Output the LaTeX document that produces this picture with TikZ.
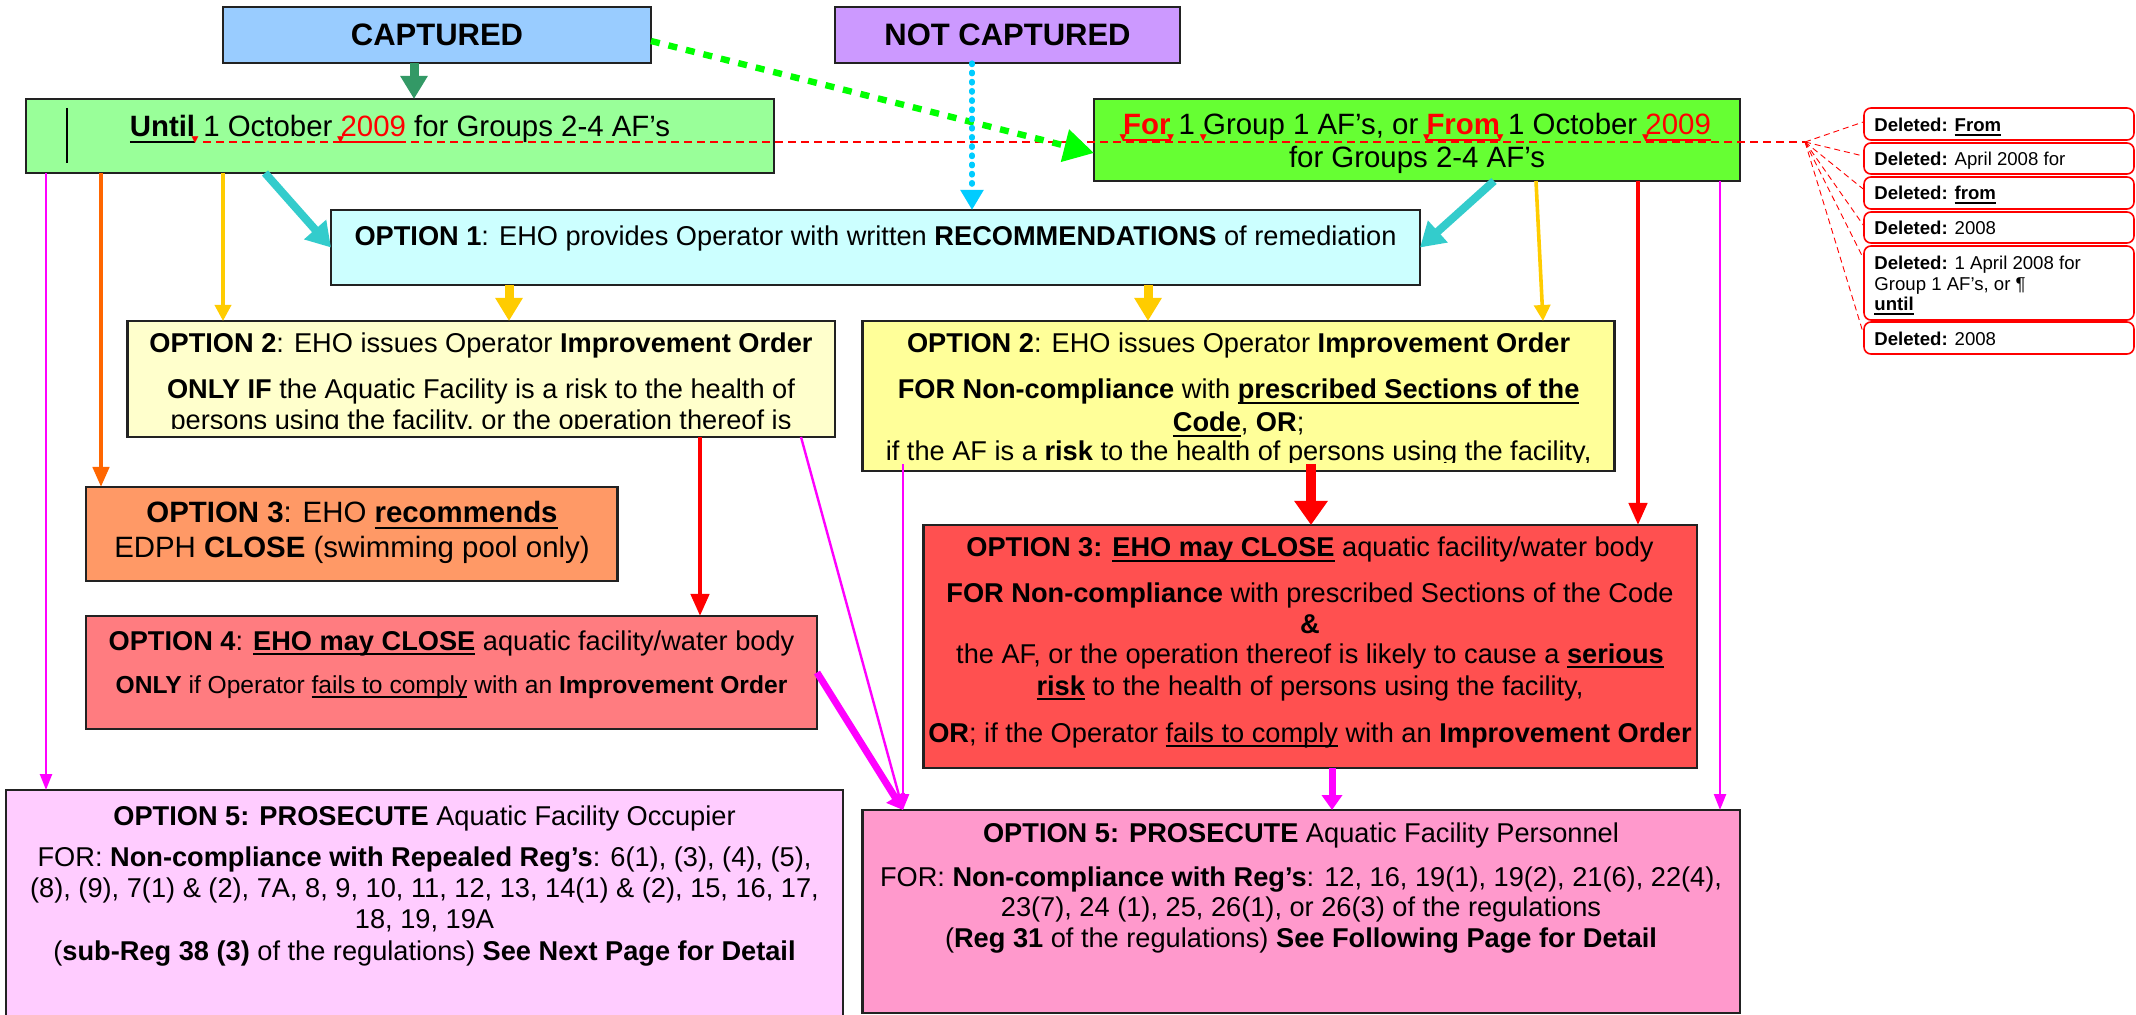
\documentclass[tikz,border=0pt]{standalone}
\usepackage{fontspec}
\setmainfont{Liberation Sans}
\newfontfamily\dejavu{DejaVu Sans}
\usetikzlibrary{arrows.meta,fit}
\definecolor{capblue}{HTML}{99CCFF}
\definecolor{ncpurple}{HTML}{CC99FF}
\definecolor{gonegreen}{HTML}{99FF99}
\definecolor{gtwogreen}{HTML}{66FF33}
\definecolor{ocyan}{HTML}{CCFFFF}
\definecolor{olyel}{HTML}{FFFFCC}
\definecolor{oryel}{HTML}{FFFF99}
\definecolor{oorange}{HTML}{FF9966}
\definecolor{osalmon}{HTML}{FF7C80}
\definecolor{ored}{HTML}{FF5050}
\definecolor{olpink}{HTML}{FFCCFF}
\definecolor{orpink}{HTML}{FF99CC}
\definecolor{dkgreen}{HTML}{339966}
\definecolor{brgreen}{HTML}{00FF00}
\definecolor{skyblue}{HTML}{00CCFF}
\definecolor{cyanar}{HTML}{33CCCC}
\definecolor{yelar}{HTML}{FFCC00}
\definecolor{orar}{HTML}{FF6600}
\definecolor{magar}{HTML}{FF00FF}
\definecolor{bordc}{HTML}{222222}
\newsavebox\undlbox
\newcommand\undl[1]{\sbox\undlbox{#1}\rlap{\rule[-0.2em]{\wd\undlbox}{0.075em}}\usebox\undlbox}
\newcommand\mk{\makebox[0pt]{\raisebox{-2.6pt}{\fontsize{4.5}{4.5}\dejavu\color{red}▼}}}
\tikzset{
  box/.style={draw=bordc, line width=1.2pt, inner sep=0pt, outer sep=0pt},
  txt/.style={anchor=base, inner sep=0pt, font=\fontsize{13.6}{16}\selectfont},
  bigtxt/.style={anchor=base, inner sep=0pt, font=\fontsize{14.7}{17}\selectfont},
  smalltxt/.style={anchor=base, inner sep=0pt, font=\fontsize{12.3}{14}\selectfont},
  captxt/.style={anchor=base, inner sep=0pt, font=\fontsize{15.5}{18}\selectfont\bfseries},
  cmt/.style={draw=red, line width=0.8pt, rounded corners=3.5pt, fill=white, inner sep=0pt},
  cmttxt/.style={anchor=base west, inner sep=0pt, font=\fontsize{9.3}{10.5}\selectfont},
  rdash/.style={draw=red, line width=0.8pt, dash pattern=on 4pt off 2.5pt},
  rdashthin/.style={draw=red, line width=0.45pt, dash pattern=on 3pt off 2pt},
  aDG/.style={draw=dkgreen, line width=4.5pt, -{Triangle[width=13pt,length=11.5pt]}},
  aGD/.style={draw=brgreen, line width=3.2pt, dash pattern=on 4.5pt off 4.5pt, -{Triangle[width=16pt,length=15pt]}},
  aBD/.style={draw=skyblue, line width=2.6pt, line cap=round, dash pattern=on 0.8pt off 3.8pt, -{Triangle[width=11pt,length=10pt]}},
  aCY/.style={draw=cyanar, line width=4pt, -{Triangle[width=14pt,length=12pt]}},
  aYT/.style={draw=yelar, line width=4.5pt, -{Triangle[width=13pt,length=11.5pt]}},
  aYt/.style={draw=yelar, line width=1.8pt, -{Triangle[width=8pt,length=8pt]}},
  aOR/.style={draw=orar, line width=2.2pt, -{Triangle[width=8pt,length=10pt]}},
  aMt/.style={draw=magar, line width=1.2pt, -{Triangle[width=6pt,length=8pt]}},
  aMT/.style={draw=magar, line width=3.5pt, -{Triangle[width=10pt,length=7.5pt]}},
  aRt/.style={draw=red, line width=2.2pt, -{Triangle[width=9pt,length=11pt]}},
  aRT/.style={draw=red, line width=5pt, -{Triangle[width=16pt,length=12pt]}},
}
\begin{document}
\begin{tikzpicture}[x=0.5pt,y=-0.5pt]
\useasboundingbox (0,0) rectangle (2136,1015);
\fill[white] (0,0) rectangle (2136,1015);

% boxes
\node[box, fill=capblue, fit={(223,7) (651,63)}] (cap) {};
\node[box, fill=ncpurple, fit={(835,7) (1180,63)}] (nc) {};
\node[box, fill=gonegreen, fit={(26,99) (774,173)}] (g1) {};
\node[box, fill=gtwogreen, fit={(1094,99) (1740,181)}] (g2) {};
\node[box, fill=ocyan, fit={(331,210) (1420,285)}] (o1) {};
\node[box, fill=olyel, fit={(127.5,321) (835,437)}] (o2l) {};
\node[box, fill=oryel, fit={(862.6,321) (1614.6,471)}] (o2r) {};
\node[box, fill=oorange, fit={(86,487) (617.6,581)}] (o3l) {};
\node[box, fill=osalmon, fit={(86,616) (817,729)}] (o4) {};
\node[box, fill=ored, fit={(923.5,525) (1696.7,768)}] (o3r) {};
\node[box, fill=olpink, fit={(6,790) (843,1030)}] (o5l) {};
\node[box, fill=orpink, fit={(862.6,810) (1740,1013)}] (o5r) {};

% comment boxes
\node[cmt, fit={(1864,108) (2134,140)}] (c1) {};
\node[cmt, fit={(1864,143) (2134,174)}] (c2) {};
\node[cmt, fit={(1864,177) (2134,209)}] (c3) {};
\node[cmt, fit={(1864,212) (2134,243)}] (c4) {};
\node[cmt, fit={(1864,246) (2134,320)}] (c5) {};
\node[cmt, fit={(1864,322) (2134,354)}] (c6) {};

% texts
\node[captxt] (capt) at (437,46) {CAPTURED};
\node[captxt] (nct) at (1007.5,46) {NOT CAPTURED};
\draw[line width=0.8pt] (67,108) -- (67,163);
\node[bigtxt] (g1t) at (400,137) {\textbf{\undl{Until}}\mk\ 1 October \mk\textcolor{red}{\undl{2009}} for Groups 2-4 AF’s};
\node[bigtxt] (g2ta) at (1417,135) {\mk\textcolor{red}{\textbf{\undl{For}}}\mk\ 1 \mk Group 1 AF’s, or \mk\textcolor{red}{\textbf{\undl{From}}}\mk\ 1 October \mk\textcolor{red}{\undl{2009}}};
\node[bigtxt] (g2tb) at (1417,168) {for Groups 2-4 AF’s};
\node[txt] (o1t) at (875.5,246) {\textbf{OPTION 1}: EHO provides Operator with written \textbf{RECOMMENDATIONS} of remediation};

\begin{scope}
\clip (127.5,321) rectangle (835,428.5);
\node[txt] (o2lta) at (481,353) {\textbf{OPTION 2}: EHO issues Operator \textbf{Improvement Order}};
\node[txt] (o2ltb) at (481,399) {\textbf{ONLY IF} the Aquatic Facility is a risk to the health of};
\node[txt] (o2ltc) at (481,430) {persons using the facility, or the operation thereof is};
\end{scope}

\begin{scope}
\clip (862.6,321) rectangle (1614.6,463);
\node[txt] (o2rta) at (1238.6,353) {\textbf{OPTION 2}: EHO issues Operator \textbf{Improvement Order}};
\node[txt] (o2rtb) at (1238.6,399) {\textbf{FOR Non-compliance} with \textbf{\undl{prescribed Sections of the}}};
\node[txt] (o2rtc) at (1238.6,432) {\textbf{\undl{Code}}, \textbf{OR};};
\node[txt] (o2rtd) at (1238.6,461) {if the AF is a \textbf{risk} to the health of persons using the facility,};
\end{scope}

\node[bigtxt] (o3lta) at (352,523) {\textbf{OPTION 3}: EHO \textbf{\undl{recommends}}};
\node[bigtxt] (o3ltb) at (352,558) {EDPH \textbf{CLOSE} (swimming pool only)};

\node[txt] (o4ta) at (451.5,650) {\textbf{OPTION 4}: \textbf{\undl{EHO may CLOSE}} aquatic facility/water body};
\node[smalltxt] (o4tb) at (451.5,693) {\textbf{ONLY} if Operator \undl{fails to comply} with an \textbf{Improvement Order}};

\node[txt] (o3rta) at (1310,557) {\textbf{OPTION 3: \undl{EHO may CLOSE}} aquatic facility/water body};
\node[txt] (o3rtb) at (1310,603) {\textbf{FOR Non-compliance} with prescribed Sections of the Code};
\node[txt] (o3rtc) at (1310,633) {\textbf{\&}};
\node[txt] (o3rtd) at (1310,663) {the AF, or the operation thereof is likely to cause a \textbf{\undl{serious}}};
\node[txt] (o3rte) at (1310,695) {\textbf{\undl{risk}} to the health of persons using the facility,};
\node[txt] (o3rtf) at (1310,742) {\textbf{OR}; if the Operator \undl{fails to comply} with an \textbf{Improvement Order}};

\node[txt] (o5lta) at (424.5,825) {\textbf{OPTION 5: PROSECUTE} Aquatic Facility Occupier};
\node[txt] (o5ltb) at (424.5,866) {FOR: \textbf{Non-compliance with Repealed Reg’s}: 6(1), (3), (4), (5),};
\node[txt] (o5ltc) at (424.5,897) {(8), (9), 7(1) \& (2), 7A, 8, 9, 10, 11, 12, 13, 14(1) \& (2), 15, 16, 17,};
\node[txt] (o5ltd) at (424.5,928) {18, 19, 19A};
\node[txt] (o5lte) at (424.5,960) {(\textbf{sub-Reg 38 (3)} of the regulations) \textbf{See Next Page for Detail}};

\node[txt] (o5rta) at (1301,842) {\textbf{OPTION 5: PROSECUTE} Aquatic Facility Personnel};
\node[txt] (o5rtb) at (1301,886) {FOR: \textbf{Non-compliance with Reg’s}: 12, 16, 19(1), 19(2), 21(6), 22(4),};
\node[txt] (o5rtc) at (1301,916) {23(7), 24 (1), 25, 26(1), or 26(3) of the regulations};
\node[txt] (o5rtd) at (1301,947) {(\textbf{Reg 31} of the regulations) \textbf{See Following Page for Detail}};

\node[cmttxt] (c1t) at (1874,132) {\textbf{Deleted:} \textbf{\undl{From}}};
\node[cmttxt] (c2t) at (1874,166) {\textbf{Deleted:} April 2008 for};
\node[cmttxt] (c3t) at (1874,200) {\textbf{Deleted:} \textbf{\undl{from}}};
\node[cmttxt] (c4t) at (1874,235) {\textbf{Deleted:} 2008};
\node[cmttxt] (c5ta) at (1874,270) {\textbf{Deleted:} 1 April 2008 for};
\node[cmttxt] (c5tb) at (1874,291) {Group 1 AF’s, or ¶};
\node[cmttxt] (c5tc) at (1874,311) {\textbf{\undl{until}}};
\node[cmttxt] (c6t) at (1874,346) {\textbf{Deleted:} 2008};

% track-change dashed lines
\coordinate (tcstart) at (203,142);
\coordinate (fan) at (1805,142);
\draw[rdash] (tcstart) -- (fan);
\draw[rdashthin] (fan) -- ([yshift=1pt]c1.west);
\draw[rdashthin] (fan) -- ([yshift=1.25pt]c2.west);
\draw[rdashthin] (fan) -- ([yshift=2pt]c3.west);
\draw[rdashthin] (fan) -- ([yshift=1.25pt]c4.west);
\draw[rdashthin] (fan) -- ([yshift=12.5pt]c5.west);
\draw[rdashthin] (fan) -- ([yshift=2.5pt]c6.west);

% connectors
\coordinate (capout) at ([yshift=-3pt]cap.east);
\coordinate (gtwoin) at ([yshift=-6.5pt]g2.west);
\coordinate (otworlow) at ([yshift=3.5pt]o2r.south);
\draw[aDG] (cap.south -| 414,0) -- (g1.north -| 414,0);
\draw[aGD] (capout) -- (gtwoin);
\draw[aBD] (nc.south -| 972,0) -- (o1.north -| 972,0);
\draw[aCY] (g1.south -| 265,0) -- (o1.west);
\draw[aCY] (g2.south -| 1494,0) -- (o1.east);
\draw[aYt] (g1.south -| 223,0) -- (o2l.north -| 223,0);
\draw[aYT] (o1.south -| 509,0) -- (o2l.north -| 509,0);
\draw[aYT] (o1.south -| 1148,0) -- (o2r.north -| 1148,0);
\draw[aYt] (g2.south -| 1536,0) -- (o2r.north -| 1543,0);
\draw[aOR] (g1.south -| 101,0) -- (o3l.north -| 101,0);
\draw[aMt] (g1.south -| 46,0) -- (o5l.north -| 46,0);
\draw[aRt] (o2l.south -| 700,0) -- (o4.north -| 700,0);
\draw[aRT] (otworlow -| 1311,0) -- (o3r.north -| 1311,0);
\draw[aRt] (g2.south -| 1638,0) -- (o3r.north -| 1638,0);
\draw[aMt] (g2.south -| 1720,0) -- (o5r.north -| 1720,0);
\draw[aMT] (o3r.south -| 1332,0) -- (o5r.north -| 1332,0);
\draw[aMt] (otworlow -| 903,0) -- (o5r.north -| 903,0);
\draw[aMt] (o2l.south -| 801,0) -- (o5r.north -| 903,0);
\draw[aMT] (o4.east) -- (o5r.north -| 903,0);
\end{tikzpicture}
\end{document}
